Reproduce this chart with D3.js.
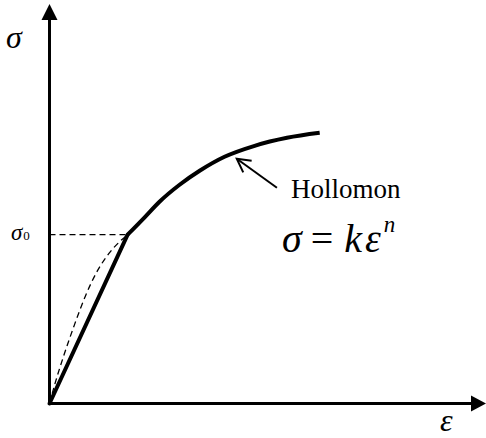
<!DOCTYPE html>
<html>
<head>
<meta charset="utf-8">
<script src="https://cdn.jsdelivr.net/npm/d3@7"></script>
<style>
  html, body { margin: 0; padding: 0; background: #fff; }
  svg { display: block; }
  svg text { font-family: "Liberation Serif", "Times New Roman", "DejaVu Serif", serif; }
</style>
</head>
<body>
<div id="chart"></div>
<script>
// Strain (ε) and stress (σ) in arbitrary units, 0–100 along each axis.
const yieldPoint = { eps: 17.9, sig: 42.25 };

// Idealised linear-elastic segment: origin to the yield point.
const elasticEps = [0, 17.9];
const elasticSig = [0, 42.25];

// Real (gradual) elastic-plastic transition, dashed.
const transitionEps = [0, 1.4, 3.2, 5.73, 8.26, 11.0, 13.76, 16.06, 17.9];
const transitionSig = [0, 5.5, 11.75, 19.75, 27.0, 33.25, 37.75, 40.5, 42.25];

// Hollomon hardening branch σ = kεⁿ beyond the yield point.
const hollomonEps = [17.9, 21.8, 25.2, 29.8, 34.4, 40.1, 47.0, 54.4, 61.9];
const hollomonSig = [42.25, 46.6, 50.5, 54.75, 58.25, 61.75, 64.5, 66.5, 67.75];

// Pointer from the label to the curve (tail, tip).
const pointerEps = [52.1, 42.9];
const pointerSig = [54, 61.25];

const W = 486, H = 438;
const x = d3.scaleLinear().domain([0, 100]).range([49.5, 486]);
const y = d3.scaleLinear().domain([0, 100]).range([403.5, 4]);

const svg = d3.select("#chart").append("svg")
  .attr("width", W).attr("height", H);

const toPts = (xs, ys) => xs.map((e, i) => [x(e), y(ys[i])]);
const line = d3.line();
const smooth = d3.line().curve(d3.curveMonotoneX);

// Axes with arrowheads
const ox = x(0), oy = y(0);
svg.append("line")
  .attr("x1", ox).attr("y1", oy).attr("x2", x(100) - 14).attr("y2", oy)
  .attr("stroke", "#000").attr("stroke-width", 3);
svg.append("line")
  .attr("x1", ox).attr("y1", oy + 1.5).attr("x2", ox).attr("y2", y(100) + 14)
  .attr("stroke", "#000").attr("stroke-width", 3);
svg.append("path")
  .attr("d", `M${x(100)},${oy} L${x(100) - 15},${oy - 8} L${x(100) - 15},${oy + 8} Z`)
  .attr("fill", "#000");
svg.append("path")
  .attr("d", `M${ox},${y(100)} L${ox - 8},${y(100) + 16} L${ox + 8},${y(100) + 16} Z`)
  .attr("fill", "#000");

// σ0 guide
svg.append("line")
  .attr("x1", ox).attr("y1", y(yieldPoint.sig))
  .attr("x2", x(yieldPoint.eps)).attr("y2", y(yieldPoint.sig))
  .attr("stroke", "#000").attr("stroke-width", 1.2)
  .attr("stroke-dasharray", "6,4");

// Gradual transition (dashed)
svg.append("path")
  .attr("d", smooth(toPts(transitionEps, transitionSig)))
  .attr("fill", "none").attr("stroke", "#000").attr("stroke-width", 1.3)
  .attr("stroke-dasharray", "6,4");

// Elastic line
svg.append("path")
  .attr("d", line(toPts(elasticEps, elasticSig)))
  .attr("fill", "none").attr("stroke", "#000").attr("stroke-width", 4)
  .attr("stroke-linecap", "round").attr("stroke-linejoin", "round");

// Hollomon branch
svg.append("path")
  .attr("d", smooth(toPts(hollomonEps, hollomonSig)))
  .attr("fill", "none").attr("stroke", "#000").attr("stroke-width", 4)
  .attr("stroke-linecap", "butt").attr("stroke-linejoin", "round");

// Pointer arrow (open head)
const [tail, tip] = toPts(pointerEps, pointerSig);
const ang = Math.atan2(tip[1] - tail[1], tip[0] - tail[0]);
const headLen = 15, headSpread = 0.5;
const barb = s => [tip[0] - headLen * Math.cos(ang + s * headSpread),
                   tip[1] - headLen * Math.sin(ang + s * headSpread)];
svg.append("path")
  .attr("d", line([tail, tip]))
  .attr("stroke", "#000").attr("stroke-width", 2).attr("fill", "none");
svg.append("path")
  .attr("d", line([barb(1), tip, barb(-1)]))
  .attr("stroke", "#000").attr("stroke-width", 2).attr("fill", "none")
  .attr("stroke-linejoin", "miter");

// Labels
const label = (px, py, size) => svg.append("text")
  .attr("x", px).attr("y", py)
  .attr("font-size", size).attr("fill", "#000");

label(6, 48, 32).attr("font-style", "italic").text("σ");
label(440, 431, 32).attr("font-style", "italic").text("ε");

const s0 = label(11, 240, 23);
s0.append("tspan").attr("font-style", "italic").text("σ");
s0.append("tspan").attr("font-size", 13).attr("dx", 1).text("0");

label(291, 198, 27).text("Hollomon");

const eq = label(282, 252, 40);
eq.append("tspan").attr("font-style", "italic").text("σ");
eq.append("tspan").attr("dx", 9).text("=");
eq.append("tspan").attr("dx", 11).attr("font-style", "italic").text("k");
eq.append("tspan").attr("dx", 3).attr("font-style", "italic").text("ε");
eq.append("tspan").attr("font-style", "italic").attr("font-size", 23)
  .attr("dy", -20).attr("dx", 3).text("n");
</script>
</body>
</html>
